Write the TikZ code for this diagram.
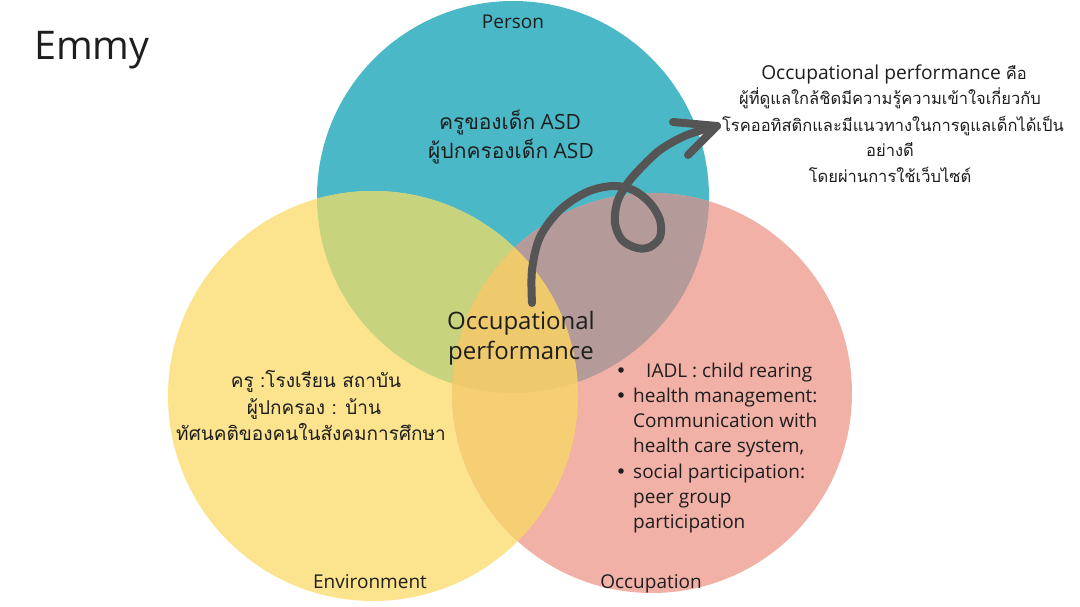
\documentclass[tikz,border=0pt]{standalone}
\usepackage{fontspec}
\setmainfont{Open Sans}
\newfontfamily\thaifont[Script=Thai]{Loma}
\definecolor{tealc}{HTML}{4BB8C7}
\definecolor{yelc}{HTML}{FCE38D}
\definecolor{pnkc}{HTML}{F2B1A7}
\definecolor{tyc}{HTML}{C8D37D}
\definecolor{tpc}{HTML}{B49B99}
\definecolor{ypc}{HTML}{F6CE74}
\definecolor{typc}{HTML}{EFCA6C}
\definecolor{arrc}{HTML}{555555}
\definecolor{txtc}{HTML}{1E1E1E}
\begin{document}
\begin{tikzpicture}[x=1pt,y=-1pt,
  lbl/.style={anchor=base,inner sep=0pt,text=txtc},
  arrline/.style={draw=arrc,line width=8pt,line cap=round,line join=round}]
\useasboundingbox (0,0) rectangle (1080,607);
\fill[white] (0,0) rectangle (1080,607);
\def\TC{(513,197) circle[radius=196pt]}
\def\YC{(373,396) circle[radius=205pt]}
\def\PC{(652,393) circle[radius=200pt]}
\fill[tealc] \TC;
\fill[yelc] \YC;
\fill[pnkc] \PC;
\begin{scope}\clip \TC; \fill[tyc] \YC; \end{scope}
\begin{scope}\clip \TC; \fill[tpc] \PC; \end{scope}
\begin{scope}\clip \YC; \fill[ypc] \PC; \end{scope}
\begin{scope}\clip \TC; \clip \YC; \fill[typc] \PC; \end{scope}

% title
\node[lbl,anchor=base west,font=\fontsize{39.5}{46}\selectfont] (title) at (34,60) {Emmy};
% circle labels
\node[lbl,font=\fontsize{19}{22}\selectfont] (person) at (513,29) {Person};
\node[lbl,font=\fontsize{19}{22}\selectfont] (env) at (370,588) {Environment};
\node[lbl,font=\fontsize{19}{22}\selectfont] (occ) at (651,588) {Occupation};

% person text
\node[lbl,font=\fontsize{21}{26}\selectfont] (p1) at (510,130) {{\thaifont ครูของเด็ก} ASD};
\node[lbl,font=\fontsize{21}{26}\selectfont] (p2) at (511,159) {{\thaifont ผู้ปกครองเด็ก} ASD};

% center
\node[lbl,font=\fontsize{24}{28}\selectfont] (c1) at (521,329) {Occupational};
\node[lbl,font=\fontsize{24}{28}\selectfont] (c2) at (521,359) {performance};

% environment text
\node[lbl,font=\fontsize{19}{24}\selectfont\thaifont] (e1) at (316,387) {ครู :โรงเรียน สถาบัน};
\node[lbl,font=\fontsize{19}{24}\selectfont\thaifont] (e2) at (314,414) {ผู้ปกครอง : บ้าน};
\node[lbl,font=\fontsize{19}{24}\selectfont\thaifont] (e3) at (311,440) {ทัศนคติของคนในสังคมการศึกษา};

% occupation list
\begin{scope}[every node/.style={lbl,anchor=base west,font=\fontsize{19}{22}\selectfont}]
\node (o1) at (646,377) {IADL : child rearing};
\node (o2) at (633,402) {health management:};
\node (o3) at (633,427) {Communication with};
\node (o4) at (633,452) {health care system,};
\node (o5) at (633,478) {social participation:};
\node (o6) at (633,503) {peer group};
\node (o7) at (633,528) {participation};
\end{scope}
\fill[txtc] (621,370) circle[radius=2.8pt];
\fill[txtc] (621,395) circle[radius=2.8pt];
\fill[txtc] (621,471) circle[radius=2.8pt];

% right text
\node[lbl,font=\fontsize{19.2}{22}\selectfont] (r1) at (894,80) {Occupational performance {\thaifont\fontsize{16.5}{22}\selectfont คือ}};
\node[lbl,font=\fontsize{16.5}{22}\selectfont\thaifont] (r2) at (890,105) {ผู้ที่ดูแลใกล้ชิดมีความรู้ความเข้าใจเกี่ยวกับ};
\node[lbl,font=\fontsize{16.5}{22}\selectfont\thaifont] (r3) at (893,132) {โรคออทิสติกและมีแนวทางในการดูแลเด็กได้เป็น};
\node[lbl,font=\fontsize{16.5}{22}\selectfont\thaifont] (r4) at (890,157) {อย่างดี};
\node[lbl,font=\fontsize{16.5}{22}\selectfont\thaifont] (r5) at (890,183) {โดยผ่านการใช้เว็บไซต์};

% arrow
\coordinate (start) at (532,303);
\coordinate (tip) at (717,126);
\draw[arrline] plot[smooth,tension=0.55] coordinates {(start) (532,270) (540,237) (560,210) (587,192) (613,186) (633,190) (650,203) (660,220) (660,237) (650,247) (637,248) (622,240) (615,223) (617,203) (625,187) (637,172) (660,150) (687,135) (tip)};
\draw[arrline] (673,122) -- (tip) -- (688,155);
\end{tikzpicture}
\end{document}
